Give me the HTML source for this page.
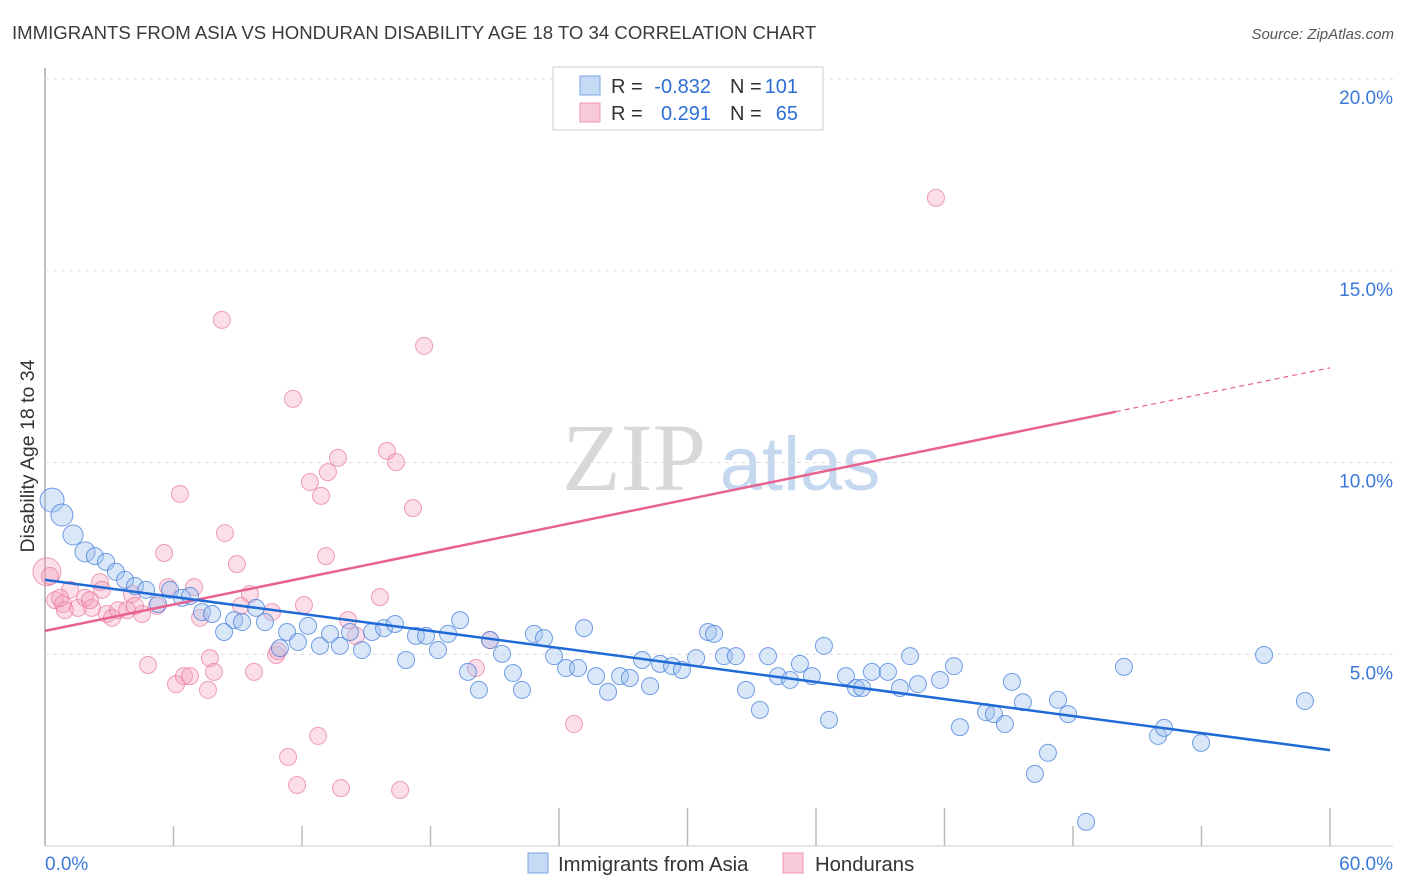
<!DOCTYPE html>
<html><head><meta charset="utf-8"><style>
body{margin:0;background:#fff;font-family:"Liberation Sans",sans-serif}
</style></head><body>
<svg id="chart" width="1406" height="892" xmlns="http://www.w3.org/2000/svg" style="display:block">
<text x="12" y="39" font-size="18.6" fill="#3a3a3a">IMMIGRANTS FROM ASIA VS HONDURAN DISABILITY AGE 18 TO 34 CORRELATION CHART</text>
<text x="1394" y="39" font-size="15" fill="#555" font-style="italic" text-anchor="end">Source: ZipAtlas.com</text>
<text x="34" y="456" font-size="19.5" fill="#333" text-anchor="middle" transform="rotate(-90 34 456)">Disability Age 18 to 34</text>
<g>
<text x="634" y="490" font-size="96" fill="#d8d8d8" font-family="Liberation Serif,serif" text-anchor="middle">ZIP</text>
<text x="800" y="490" font-size="76" fill="#c5d8ef" text-anchor="middle">atlas</text>
</g>
<g id="grid"></g><g id="ticks"></g><g id="marks"></g>
<g font-size="20" fill="#333">
<rect x="553" y="67" width="270" height="63" fill="#fff" stroke="#ccc"/>
<rect x="580" y="76" width="20" height="19" fill="#c5daf5" stroke="#7aa6e4"/>
<rect x="580" y="103" width="20" height="19" fill="#f8cad8" stroke="#ec94b1"/>
<text x="611" y="93">R =</text><text x="711" y="93" text-anchor="end" fill="#2e6fd6">-0.832</text>
<text x="730" y="93">N =</text><text x="798" y="93" text-anchor="end" fill="#2e6fd6">101</text>
<text x="611" y="120">R =</text><text x="711" y="120" text-anchor="end" fill="#2e6fd6">0.291</text>
<text x="730" y="120">N =</text><text x="798" y="120" text-anchor="end" fill="#2e6fd6">65</text>
</g>
<g>
<rect x="528" y="853" width="20" height="20" fill="#c5daf5" stroke="#7aa6e4"/>
<text x="558" y="871" font-size="20.3" fill="#333">Immigrants from Asia</text>
<rect x="783" y="853" width="20" height="20" fill="#f8cad8" stroke="#ec94b1"/>
<text x="815" y="871" font-size="20.3" fill="#333">Hondurans</text>
</g>
</svg>
<script>
const yTicks=[5,10,15,20];
const yTickLabels=["5.0%","10.0%","15.0%","20.0%"];
const xTicks=[0,6,12,18,24,30,36,42,48,54,60];
const xLabels=["0.0%","60.0%"];
const asiaX=[0.33,0.79,1.31,1.87,2.33,2.85,3.31,3.74,4.20,4.72,5.28,5.84,6.40,6.77,7.33,7.80,8.36,8.83,9.20,9.85,10.27,10.97,11.30,11.81,12.28,12.84,13.31,13.77,14.24,14.80,15.27,15.83,16.34,16.86,17.32,17.79,18.35,18.82,19.38,19.75,20.26,20.78,21.34,21.85,22.27,22.83,23.30,23.77,24.33,24.89,25.17,25.73,26.29,26.85,27.31,27.88,28.25,28.72,29.28,29.74,30.40,30.96,31.24,31.70,32.26,32.73,33.38,33.76,34.22,34.79,35.25,35.81,36.37,36.61,37.40,37.87,38.15,38.61,39.36,39.92,40.39,40.76,41.79,42.44,42.72,43.94,44.31,44.82,45.15,45.66,46.22,46.83,47.30,47.77,48.61,50.38,51.97,52.25,53.98,56.92,58.83];
const asiaY=[9.02,8.63,8.11,7.67,7.56,7.41,7.15,6.94,6.78,6.68,6.31,6.68,6.47,6.52,6.10,6.05,5.58,5.89,5.84,6.21,5.84,5.16,5.58,5.32,5.74,5.22,5.53,5.22,5.58,5.11,5.58,5.68,5.79,4.85,5.48,5.48,5.11,5.53,5.89,4.54,4.07,5.37,5.01,4.51,4.07,5.53,5.42,4.95,4.64,4.64,5.68,4.43,4.02,4.43,4.38,4.85,4.17,4.75,4.69,4.59,4.90,5.58,5.53,4.95,4.95,4.07,3.55,4.95,4.43,4.33,4.75,4.43,5.22,3.29,4.43,4.12,4.12,4.54,4.54,4.12,4.95,4.22,4.33,4.69,3.10,3.49,3.44,3.18,4.28,3.75,1.88,2.43,3.81,3.44,0.63,4.67,2.87,3.08,2.69,4.98,3.78];
const hondX=[0.09,0.23,0.47,0.84,1.17,1.54,1.87,2.19,2.57,2.89,3.13,3.41,3.83,4.06,4.53,4.81,5.23,5.56,5.74,6.12,6.30,6.49,6.77,6.96,7.24,7.61,7.70,7.89,8.26,8.40,8.96,9.15,9.57,9.76,10.60,10.79,10.88,11.35,11.58,11.77,12.09,12.37,12.75,12.89,13.12,13.21,13.68,13.82,14.15,14.52,15.64,15.97,16.39,16.58,17.18,17.70,20.12,20.78,24.70,41.60,0.93,2.10,0.70,2.66,4.20];
const hondY=[7.15,7.04,6.41,6.31,6.68,6.21,6.47,6.21,6.88,6.05,5.95,6.15,6.15,6.57,6.05,4.72,6.26,7.64,6.75,4.22,9.18,4.43,4.43,6.75,5.95,4.07,4.90,4.54,13.72,8.16,7.35,6.26,6.57,4.54,6.10,4.98,5.08,2.32,11.66,1.59,6.28,9.49,2.87,9.13,7.56,9.75,10.12,1.51,5.89,5.48,6.49,10.30,10.01,1.46,8.81,13.04,4.64,5.37,3.18,16.90,6.15,6.41,6.47,6.68,6.26];
const asiaTrend=[6.94,-0.074];
const hondTrend=[5.61,0.1143];
const X=v=>45+v/60*1285, Y=v=>846-v*38.35;
const NS="http://www.w3.org/2000/svg";
function mk(parent,tag,attrs){const e=document.createElementNS(NS,tag);for(const k in attrs)e.setAttribute(k,attrs[k]);document.getElementById(parent).appendChild(e);return e;}
let ax=mk('grid','line',{x1:45,y1:68,x2:45,y2:846,stroke:'#aaa','stroke-width':1.5});


let bx=mk('grid','line',{x1:45,y1:846,x2:1393,y2:846,stroke:'#ccc'});


yTicks.forEach((t,i)=>{
 const g=mk('grid','line',{x1:45,y1:Y(t),x2:1393,y2:Y(t),stroke:'#ddd','stroke-dasharray':'4,4'});
 
 
 const l=mk('grid','text',{x:1393,y:Y(t)+25,'font-size':19,fill:'#3b78d8','text-anchor':'end'});
 l.textContent=yTickLabels[i];
 
 
});
xTicks.forEach((t,i)=>{
 const long=(t>=24&&t<=42)||t==60;
 const tk=mk('ticks','line',{x1:X(t),y1:long?808:826,x2:X(t),y2:846,stroke:'#bbb','stroke-width':1.5});
 
 
});
[[0,'start',45],[60,'end',1393]].forEach((d,i)=>{
 const l=mk('ticks','text',{x:d[2],y:870,'font-size':19,fill:'#3b78d8','text-anchor':d[1]});
 l.textContent=xLabels[i];
 
 
});
hondX.forEach((x,i)=>{
 const c=mk('marks','circle',{cx:X(x),cy:Y(hondY[i]),r:i==0?14:8.5,fill:'rgba(244,160,186,0.35)',stroke:'rgba(232,120,155,0.7)','stroke-width':1});
 
 
});
asiaX.forEach((x,i)=>{
 const c=mk('marks','circle',{cx:X(x),cy:Y(asiaY[i]),r:i==0?12:i==1?11:i<4?10:8.5,fill:'rgba(160,196,240,0.4)',stroke:'rgba(60,120,215,0.7)','stroke-width':1});
 
 
});
let p1=mk('marks','line',{x1:X(0),y1:Y(hondTrend[0]),x2:X(50),y2:Y(hondTrend[0]+50*hondTrend[1]),stroke:'#e8628f','stroke-width':2.5});


let p2=mk('marks','line',{x1:X(50),y1:Y(hondTrend[0]+50*hondTrend[1]),x2:X(60),y2:Y(hondTrend[0]+60*hondTrend[1]),stroke:'#e8628f','stroke-width':1.2,'stroke-dasharray':'5,4'});


let b1=mk('marks','line',{x1:X(0),y1:Y(asiaTrend[0]),x2:X(60),y2:Y(asiaTrend[0]+60*asiaTrend[1]),stroke:'#1f6ad6','stroke-width':2.5});


</script>
</body></html>
